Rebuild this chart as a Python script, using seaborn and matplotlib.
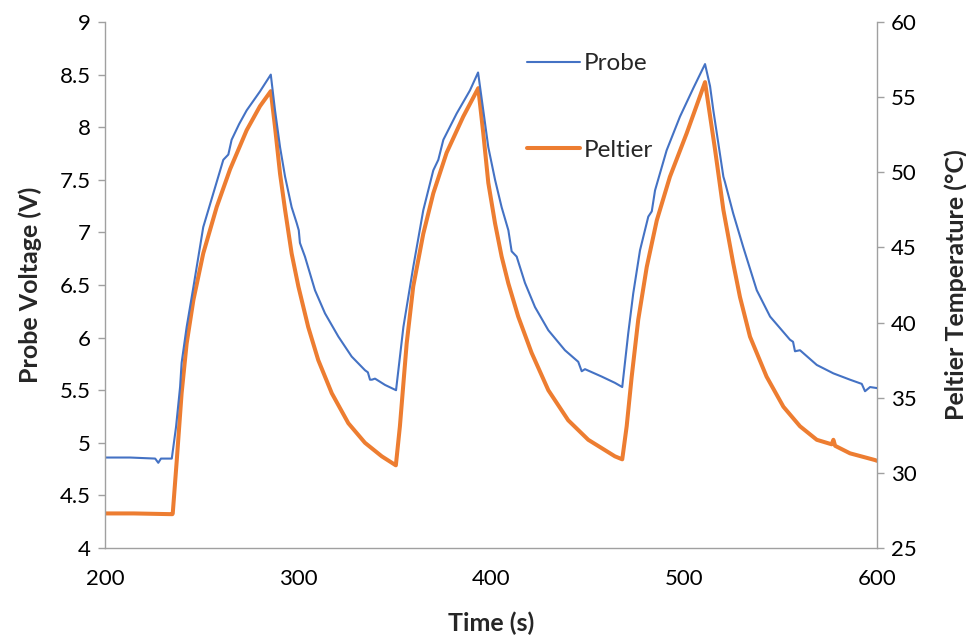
import numpy as np
import pandas as pd
import matplotlib
matplotlib.use("Agg")
import matplotlib.pyplot as plt
from matplotlib.ticker import FuncFormatter
from matplotlib.lines import Line2D
import seaborn as sns

# ---------------- data ----------------
probe_t = [200, 213, 226, 227.6, 229, 234.6, 236.8, 238.9, 239.7, 242.3, 245.8, 250.9,
           256.1, 261.3, 263.9, 265.6, 269.5, 273.4, 280.3, 285.9, 288.1, 290.7, 293.3,
           296.7, 299.3, 300.4, 301.0, 303.6, 308.8, 314.0, 320.9, 327.8, 334.7, 336.2,
           337.3, 338.3, 339.9, 345.1, 350.8, 354.6, 359.7, 364.9, 370.1, 372.7, 375.3,
           382.2, 389.1, 393.3, 396.0, 398.6, 402.1, 405.5, 409.0, 410.7, 413.3, 417.6,
           422.8, 429.7, 438.3, 445.2, 447.0, 448.7, 457.3, 464.2, 468.0, 471.1, 473.7,
           477.2, 481.5, 483.3, 485.0, 491.0, 497.9, 504.8, 510.9, 513.5, 515.2, 520.4,
           521.2, 525.5, 530.7, 537.7, 544.6, 554.9, 556.5, 557.5, 560.1, 568.8, 577.4,
           586.0, 592.1, 593.8, 596.4, 600]
probe_v = [4.86, 4.86, 4.85, 4.81, 4.85, 4.85, 5.15, 5.53, 5.76, 6.10, 6.48, 7.05,
           7.37, 7.69, 7.74, 7.88, 8.03, 8.16, 8.34, 8.50, 8.16, 7.81, 7.53,
           7.24, 7.09, 7.02, 6.90, 6.77, 6.45, 6.23, 6.01, 5.82, 5.69, 5.67,
           5.60, 5.60, 5.61, 5.55, 5.50, 6.10, 6.67, 7.21, 7.59, 7.69, 7.88,
           8.13, 8.35, 8.52, 8.16, 7.81, 7.50, 7.24, 7.02, 6.82, 6.77, 6.52,
           6.29, 6.07, 5.88, 5.77, 5.68, 5.70, 5.63, 5.57, 5.53, 6.04, 6.42,
           6.83, 7.15, 7.20, 7.40, 7.78, 8.10, 8.37, 8.60, 8.39, 8.16, 7.53,
           7.48, 7.18, 6.86, 6.45, 6.20, 5.98, 5.96, 5.87, 5.88, 5.74, 5.66,
           5.60, 5.56, 5.49, 5.53, 5.52]

peltier_t = [200, 215, 234.9, 235.1, 237.2, 239.7, 242.3, 245.8, 250.9, 257.9, 264.8,
             273.4, 280.3, 285.9, 288.1, 290.7, 293.3, 296.7, 300.2, 305.3, 310.5, 317.5,
             326.1, 334.7, 343.4, 350.7, 352.8, 356.3, 359.7, 364.9, 370.1, 377.0, 385.6,
             393.4, 396.0, 398.6, 402.1, 405.5, 409.0, 414.1, 421.0, 429.7, 440.0, 450.4,
             464.2, 468.0, 470.3, 472.9, 476.3, 480.7, 485.9, 492.7, 501.4, 510.9, 516.1,
             520.4, 525.5, 529.0, 534.2, 542.8, 551.5, 560.1, 568.8, 576.5, 577.4, 578.3,
             586.0, 599.0, 600]
peltier_c = [27.3, 27.3, 27.25, 27.3, 30.86, 35.3, 38.6, 41.5, 44.6, 47.7, 50.2,
             52.8, 54.4, 55.4, 53.0, 49.9, 47.5, 44.6, 42.4, 39.7, 37.5, 35.3,
             33.3, 32.0, 31.1, 30.5, 33.1, 38.6, 42.4, 45.9, 48.6, 51.3, 53.7,
             55.6, 52.6, 49.3, 46.6, 44.4, 42.6, 40.4, 38.0, 35.5, 33.5, 32.2,
             31.1, 30.9, 33.1, 36.4, 40.2, 43.7, 46.8, 49.7, 52.6, 56.0, 51.5,
             47.5, 43.95, 41.7, 39.06, 36.4, 34.4, 33.1, 32.2, 31.9, 32.2, 31.8,
             31.3, 30.85, 30.8]

series_names = ["Probe", "Peltier"]
x_ticks = [200, 300, 400, 500, 600]
left_ticks = [4, 4.5, 5, 5.5, 6, 6.5, 7, 7.5, 8, 8.5, 9]
right_ticks = [25, 30, 35, 40, 45, 50, 55, 60]

# ---------------- style ----------------
sns.set_style("white")
plt.rcParams["font.family"] = ["Lato", "DejaVu Sans"]

BLUE = "#4472C4"
ORANGE = "#ED7D31"
SPINE = "#a0a0a0"

W, H = 966, 637
L, R, T, B = 105, 877, 22, 548
fig = plt.figure(figsize=(W / 100, H / 100), dpi=100)
ax = fig.add_axes([L / W, 1 - B / H, (R - L) / W, (B - T) / H])
ax2 = ax.twinx()

df_probe = pd.DataFrame({"t": probe_t, "v": probe_v})
df_pelt = pd.DataFrame({"t": peltier_t, "c": peltier_c})

sns.lineplot(data=df_pelt, x="t", y="c", ax=ax2, color=ORANGE, linewidth=2.9,
             sort=False, estimator=None, legend=False)
sns.lineplot(data=df_probe, x="t", y="v", ax=ax, color=BLUE, linewidth=1.5,
             sort=False, estimator=None, legend=False)
for a in (ax, ax2):
    for ln in a.lines:
        ln.set_solid_joinstyle("round")
        ln.set_solid_capstyle("round")

# draw probe above peltier
ax.set_zorder(ax2.get_zorder() + 1)
ax.patch.set_visible(False)

ax.set_xlim(x_ticks[0], x_ticks[-1])
ax.set_ylim(left_ticks[0], left_ticks[-1])
ax2.set_ylim(right_ticks[0], right_ticks[-1])
ax.set_xticks(x_ticks)
ax.set_yticks(left_ticks)
ax2.set_yticks(right_ticks)
ax.yaxis.set_major_formatter(FuncFormatter(lambda v, p: f"{v:g}"))
ax2.yaxis.set_major_formatter(FuncFormatter(lambda v, p: f"{v:g}"))

for a in (ax, ax2):
    for s in a.spines.values():
        s.set_color(SPINE)
        s.set_linewidth(1.0)
    a.spines["top"].set_visible(False)
    a.tick_params(axis="both", colors=SPINE, labelcolor="black", labelsize=16,
                  length=5, width=1.0, direction="out")
ax.spines["right"].set_visible(False)
ax2.spines["left"].set_visible(False)
ax2.spines["bottom"].set_visible(False)
ax.tick_params(axis="x", pad=10)
ax.tick_params(axis="y", pad=5)
ax2.tick_params(axis="y", pad=5)

ax.set_xlabel("Time (s)", fontsize=18, fontweight="bold")
ax.set_ylabel("Probe Voltage (V)", fontsize=18, fontweight="bold")
ax2.set_ylabel("Peltier Temperature (°C)", fontsize=18, fontweight="bold")
ax.xaxis.set_label_coords(0.5, (B - 612) / (B - T))
ax.yaxis.set_label_coords((42 - L) / (R - L), 0.5)
ax2.yaxis.set_label_coords((944 - L) / (R - L), 0.5)

handles = [Line2D([], [], color=BLUE, linewidth=1.5),
           Line2D([], [], color=ORANGE, linewidth=2.9)]
ax.legend(handles, series_names, loc="upper left",
          bbox_to_anchor=((527 - L) / (R - L), (B - 53) / (B - T)),
          frameon=False, fontsize=17.5, handlelength=2.2, handletextpad=0.15,
          labelspacing=2.7, borderpad=0, borderaxespad=0)

fig.savefig("out.png", dpi=100, facecolor="white")
